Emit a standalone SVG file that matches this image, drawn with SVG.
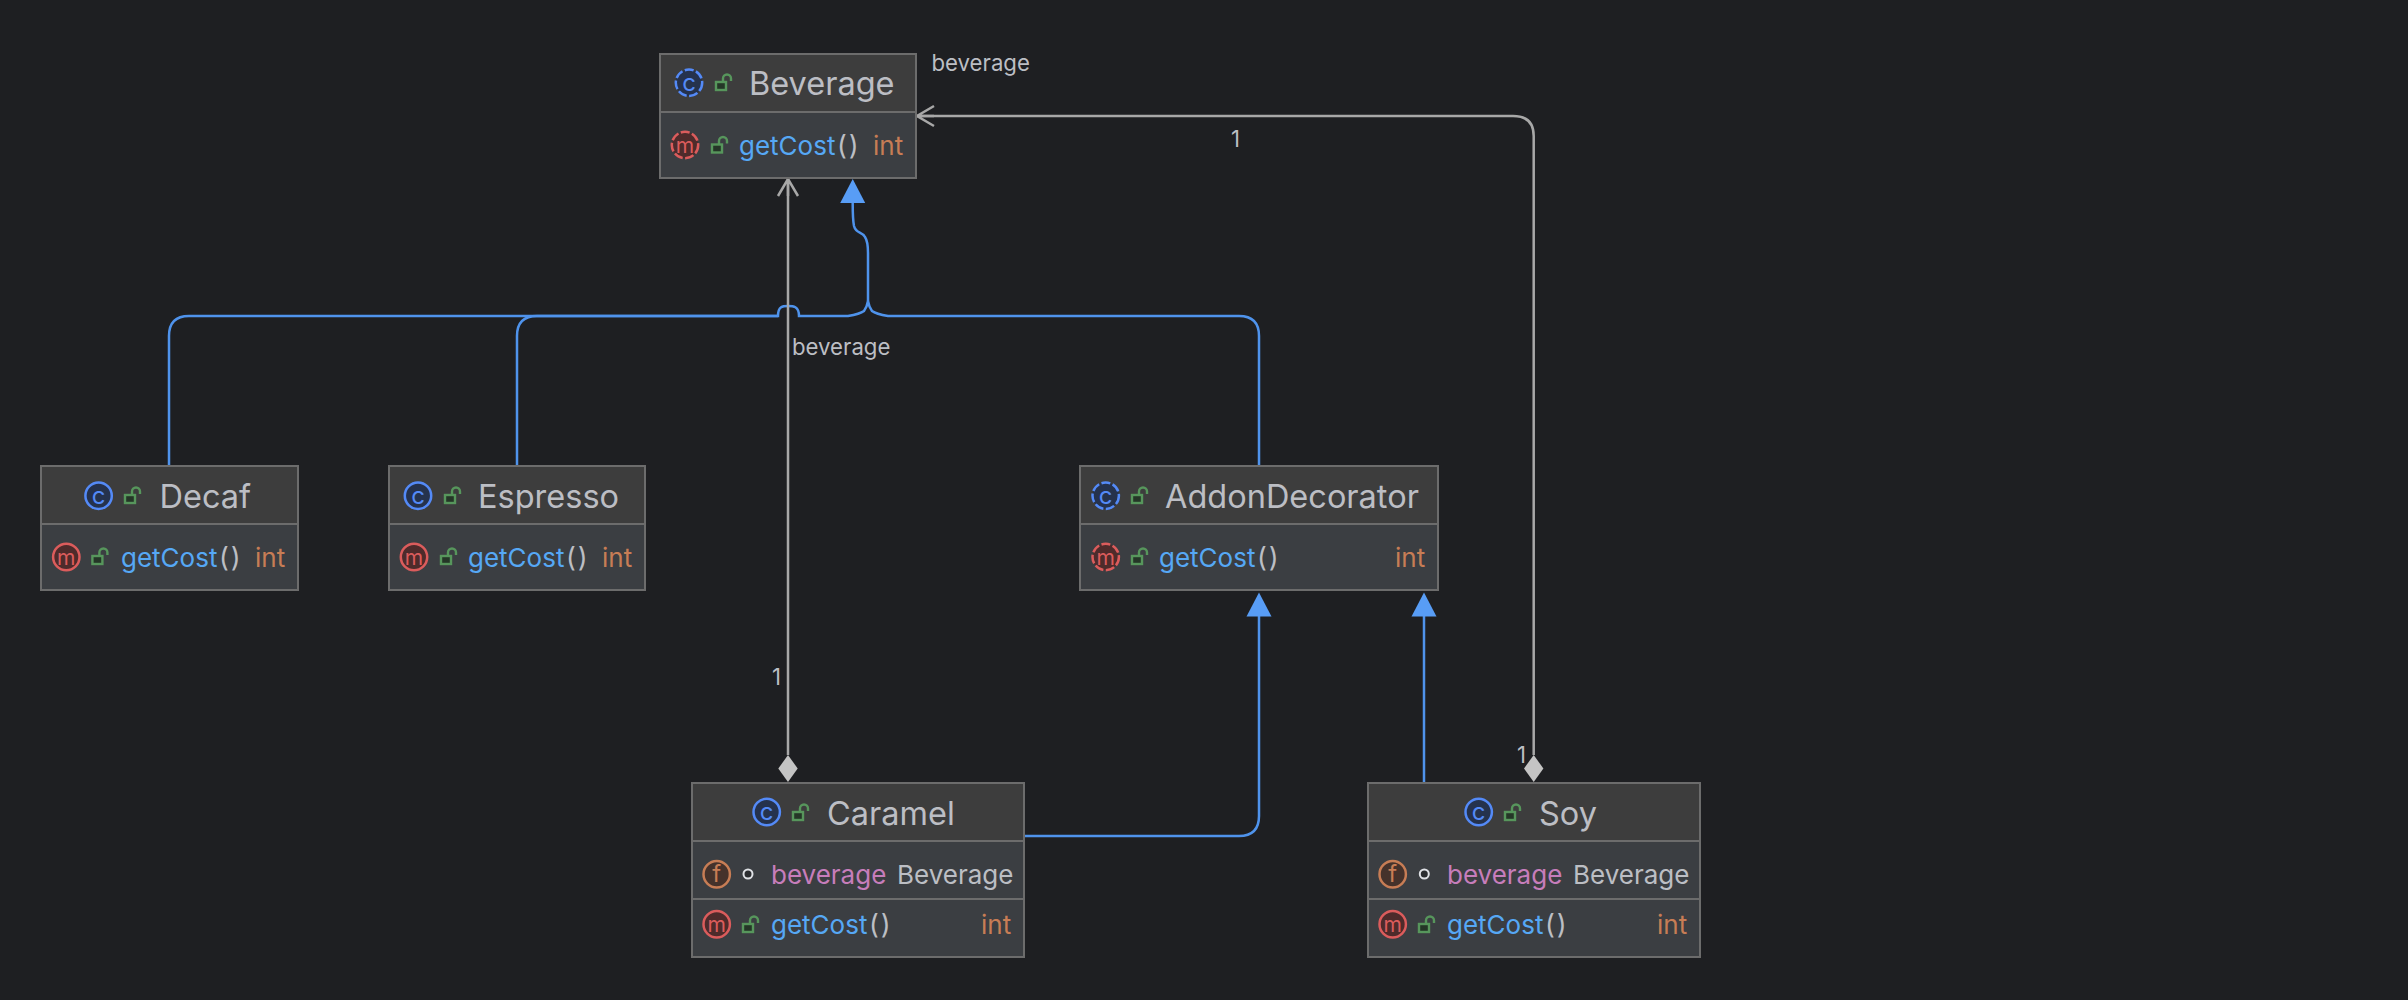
<svg xmlns="http://www.w3.org/2000/svg" width="2408" height="1000" viewBox="0 0 2408 1000">
<style>
text{font-family:Inter,"Noto Sans","Liberation Sans",sans-serif}
.hd{fill:#3d3d3d}.bd{fill:#3b3e42}
.frame{fill:none;stroke:#6c6c6c;stroke-width:2}
.div{stroke:#6c6c6c;stroke-width:2}
.title{font-size:32.500px;fill:#bcbec4}
.member{font-size:26px}
.mn{fill:#56a8f5}.pn{fill:#bcbec4;letter-spacing:2px;font-size:27px}.ty{fill:#bcbec4}.in{fill:#c77d55}.fn{fill:#c77dbb}
.lab{font-size:22.200px;fill:#bcbec4}
.blue{fill:none;stroke:#4f93ec;stroke-width:2.500}
.gray{fill:none;stroke:#a8a8a8;stroke-width:2.500}
.ic{font-size:24px;text-anchor:middle}
.lk rect,.lk path{fill:#253627;stroke:#57965c;stroke-width:2.400}
.lk path{fill:none}
</style>
<defs>
<g id="lock" class="lk"><rect x="0" y="0" width="10" height="8"/><path d="M7 0V-3.500A4 4 0 0 1 15 -3.500V-1"/></g>
<g id="cI"><circle r="13.200" fill="#25324d" stroke="#548af7" stroke-width="2.500"/><text class="ic" y="8" fill="#548af7">c</text></g>
<g id="aI"><circle r="13.200" fill="#25324d" stroke="#548af7" stroke-width="2.500" stroke-dasharray="9 2.500"/><text class="ic" y="8" fill="#548af7">c</text></g>
<g id="mI"><circle r="13.200" fill="#4e2b2b" stroke="#db5c5c" stroke-width="2.500"/><text class="ic" y="7.500" fill="#db5c5c" style="font-size:21px">m</text></g>
<g id="maI"><circle r="13.200" fill="#4e2b2b" stroke="#db5c5c" stroke-width="2.500" stroke-dasharray="9 2.500"/><text class="ic" y="7.500" fill="#db5c5c" style="font-size:21px">m</text></g>
<g id="fI"><circle r="13.200" fill="#45322b" stroke="#c77d55" stroke-width="2.500"/><text class="ic" y="8" fill="#c77d55">f</text></g>
<path id="tri" d="M0 0L12.500 24H-12.500Z" fill="#589df6"/>
<path id="dia" d="M0 0L9.700 13.500L0 27L-9.700 13.500Z" fill="#c4c4c4"/>
<path id="open" d="M-10 17L0 0L10 17M0 0V17" fill="none" stroke="#a8a8a8" stroke-width="2.500"/>
</defs>
<rect width="2408" height="1000" fill="#1e1f22"/>
<g id="connectors">
<path class="blue" d="M169 466V336Q169 316 189 316H778C778 306 783 306 788 306S799 306 799 316H848Q860 314 864 311Q867 307 868 301Q869 307 872 311Q876 314 888 316H1239Q1259 316 1259 336V466"/>
<path class="blue" d="M517 466V336Q517 316 537 316H778"/>
<path class="blue" d="M868 301V253C868 246 867 240 865 237C862 231 856 234 854 226C853 221 852.700 214 852.700 203"/>
<use href="#tri" x="852.700" y="179"/>
<path class="blue" d="M1024 836H1239Q1259 836 1259 816V615"/>
<use href="#tri" x="1259" y="592.500"/>
<path class="blue" d="M1424 783V615"/>
<use href="#tri" x="1424" y="592.500"/>
<path class="gray" d="M788 179V755"/>
<use href="#open" x="788" y="179"/>
<use href="#dia" x="788" y="755"/>
<path class="gray" d="M917 116H1513Q1533.700 116 1533.700 136V755"/>
<use href="#open" transform="translate(917 116) rotate(-90)"/>
<use href="#dia" x="1533.700" y="755"/>
<text class="lab" x="931.500" y="70.500">beverage</text>
<text class="lab" x="1231" y="146.500">1</text>
<text class="lab" x="792" y="354.500">beverage</text>
<text class="lab" x="772" y="684.500">1</text>
<text class="lab" x="1517" y="762.500">1</text>
</g>
<g id="Beverage">
<rect class="hd" x="660" y="54" width="256" height="58"/><rect class="bd" x="660" y="112" width="256" height="66"/>
<rect class="frame" x="660" y="54" width="256" height="124"/><path class="div" d="M660 112H916"/>
<use href="#aI" x="689" y="82.700"/><use href="#lock" x="716" y="82"/>
<text class="title" x="749" y="94.500">Beverage</text>
<use href="#maI" x="685" y="145"/><use href="#lock" x="712" y="144.500"/>
<text class="member" x="739" y="155"><tspan class="mn">getCost</tspan><tspan class="pn" dx="1.500">()</tspan></text>
<text class="member in" x="873" y="155">int</text>
</g>
<g id="Decaf">
<rect class="hd" x="41" y="466" width="257" height="58"/><rect class="bd" x="41" y="524" width="257" height="66"/>
<rect class="frame" x="41" y="466" width="257" height="124"/><path class="div" d="M41 524H298"/>
<use href="#cI" x="98.600" y="495.700"/><use href="#lock" x="125" y="495"/>
<text class="title" x="159.500" y="507.500">Decaf</text>
<use href="#mI" x="66.300" y="557"/><use href="#lock" x="92.400" y="556"/>
<text class="member" x="121" y="566.500"><tspan class="mn">getCost</tspan><tspan class="pn" dx="1.500">()</tspan></text>
<text class="member in" x="255" y="566.500">int</text>
</g>
<g id="Espresso">
<rect class="hd" x="389" y="466" width="256" height="58"/><rect class="bd" x="389" y="524" width="256" height="66"/>
<rect class="frame" x="389" y="466" width="256" height="124"/><path class="div" d="M389 524H645"/>
<use href="#cI" x="418" y="495.700"/><use href="#lock" x="445" y="495"/>
<text class="title" x="478" y="507.500">Espresso</text>
<use href="#mI" x="414" y="557"/><use href="#lock" x="441" y="556"/>
<text class="member" x="468" y="566.500"><tspan class="mn">getCost</tspan><tspan class="pn" dx="1.500">()</tspan></text>
<text class="member in" x="602" y="566.500">int</text>
</g>
<g id="AddonDecorator">
<rect class="hd" x="1080" y="466" width="358" height="58"/><rect class="bd" x="1080" y="524" width="358" height="66"/>
<rect class="frame" x="1080" y="466" width="358" height="124"/><path class="div" d="M1080 524H1438"/>
<use href="#aI" x="1105.700" y="495.700"/><use href="#lock" x="1132" y="495"/>
<text class="title" x="1165" y="507.500">AddonDecorator</text>
<use href="#maI" x="1105.700" y="557"/><use href="#lock" x="1132" y="556"/>
<text class="member" x="1159" y="566.500"><tspan class="mn">getCost</tspan><tspan class="pn" dx="1.500">()</tspan></text>
<text class="member in" x="1395" y="566.500">int</text>
</g>
<g id="Caramel">
<rect class="hd" x="692" y="783" width="332" height="58"/><rect class="bd" x="692" y="841" width="332" height="116"/>
<rect class="frame" x="692" y="783" width="332" height="174"/><path class="div" d="M692 841H1024M692 899H1024"/>
<use href="#cI" x="766.700" y="812"/><use href="#lock" x="793" y="812"/>
<text class="title" x="827" y="824.500">Caramel</text>
<use href="#fI" x="716.700" y="874.300"/><circle cx="748" cy="874" r="4.500" fill="#2b2d30" stroke="#dfe1e5" stroke-width="2"/>
<text class="member" x="771" y="884"><tspan class="fn">beverage</tspan></text>
<text class="member ty" x="897" y="884">Beverage</text>
<use href="#mI" x="716.700" y="924.300"/><use href="#lock" x="743" y="924"/>
<text class="member" x="771" y="934"><tspan class="mn">getCost</tspan><tspan class="pn" dx="1.500">()</tspan></text>
<text class="member in" x="981" y="934">int</text>
</g>
<g id="Soy">
<rect class="hd" x="1368" y="783" width="332" height="58"/><rect class="bd" x="1368" y="841" width="332" height="116"/>
<rect class="frame" x="1368" y="783" width="332" height="174"/><path class="div" d="M1368 841H1700M1368 899H1700"/>
<use href="#cI" x="1478.700" y="812"/><use href="#lock" x="1505" y="812"/>
<text class="title" x="1539" y="824.500">Soy</text>
<use href="#fI" x="1392.700" y="874.300"/><circle cx="1424.300" cy="874" r="4.500" fill="#2b2d30" stroke="#dfe1e5" stroke-width="2"/>
<text class="member" x="1447" y="884"><tspan class="fn">beverage</tspan></text>
<text class="member ty" x="1573" y="884">Beverage</text>
<use href="#mI" x="1392.700" y="924.300"/><use href="#lock" x="1419" y="924"/>
<text class="member" x="1447" y="934"><tspan class="mn">getCost</tspan><tspan class="pn" dx="1.500">()</tspan></text>
<text class="member in" x="1657" y="934">int</text>
</g>
</svg>
